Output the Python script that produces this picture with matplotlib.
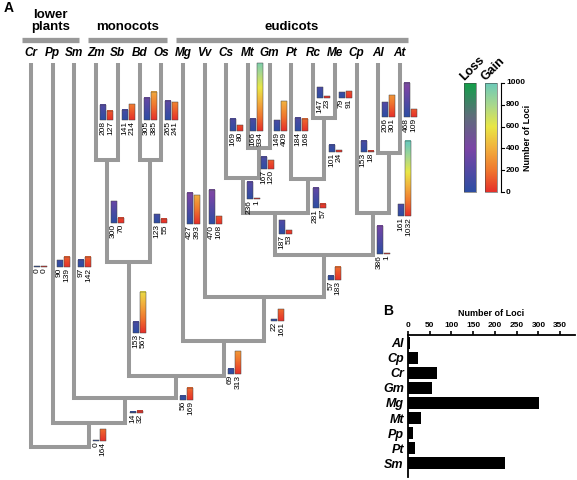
import numpy as np
import matplotlib
matplotlib.use("Agg")
import matplotlib.pyplot as plt
from matplotlib.colors import LinearSegmentedColormap
from matplotlib.patches import Rectangle

plt.rcParams['font.family'] = ['Liberation Sans', 'DejaVu Sans']

# ---- data ----
leaves = ['Cr', 'Pp', 'Sm', 'Zm', 'Sb', 'Bd', 'Os', 'Mg', 'Vv', 'Cs', 'Mt', 'Gm', 'Pt', 'Rc', 'Me', 'Cp', 'Al', 'At']

# internal nodes: name -> (child1, child2)
nodes = {
    'ZmSb': ('Zm', 'Sb'), 'BdOs': ('Bd', 'Os'), 'Mono': ('ZmSb', 'BdOs'),
    'MtGm': ('Mt', 'Gm'), 'CsMtGm': ('Cs', 'MtGm'), 'RcMe': ('Rc', 'Me'),
    'PtRcMe': ('Pt', 'RcMe'), 'Ros': ('CsMtGm', 'PtRcMe'), 'AlAt': ('Al', 'At'),
    'CpAlAt': ('Cp', 'AlAt'), 'Core': ('Ros', 'CpAlAt'), 'VvN': ('Vv', 'Core'),
    'MgN': ('Mg', 'VvN'), 'Angio': ('Mono', 'MgN'), 'SmN': ('Sm', 'Angio'),
    'PpN': ('Pp', 'SmN'), 'Root': ('Cr', 'PpN'),
}

branches = ['Cr', 'Pp', 'Sm', 'Zm', 'Sb', 'Bd', 'Os', 'Mg', 'Vv', 'Cs', 'Mt', 'Gm', 'Pt', 'Rc', 'Me', 'Cp', 'Al', 'At',
            'ZmSb', 'BdOs', 'Mono', 'MtGm', 'RcMe', 'AlAt', 'CsMtGm', 'PtRcMe', 'Ros', 'CpAlAt', 'Core', 'VvN',
            'MgN', 'Angio', 'SmN', 'PpN']
loss = [0, 90, 97, 208, 141, 305, 265, 427, 470, 169, 166, 149, 184, 147, 79, 153, 206, 468,
        300, 123, 153, 167, 101, 161, 236, 281, 187, 386, 57, 22, 69, 56, 14, 0]
gain = [0, 139, 142, 127, 214, 385, 241, 393, 108, 80, 934, 409, 168, 23, 91, 18, 301, 109,
        70, 55, 567, 120, 24, 1032, 1, 57, 53, 1, 183, 161, 313, 169, 32, 164]

b_species = ['Al', 'Cp', 'Cr', 'Gm', 'Mg', 'Mt', 'Pp', 'Pt', 'Sm']
b_loci = [4, 24, 66, 56, 302, 29, 12, 15, 223]

# ---- layout (pixels) ----
leaf_top = 63
leaf_x = {name: 31 + 21.7 * i for i, name in enumerate(leaves)}
node_y = {'ZmSb': 160, 'BdOs': 160, 'Mono': 262, 'MtGm': 148, 'CsMtGm': 178, 'RcMe': 118,
          'PtRcMe': 179, 'Ros': 213, 'AlAt': 153, 'CpAlAt': 213, 'Core': 255, 'VvN': 297,
          'MgN': 341, 'Angio': 376, 'SmN': 398, 'PpN': 423, 'Root': 447}
bar_base = {'Cr': 267, 'Pp': 267, 'Sm': 267, 'Zm': 120, 'Sb': 120, 'Bd': 120, 'Os': 120,
            'Mg': 224, 'Vv': 224, 'Cs': 131, 'Mt': 131, 'Gm': 131, 'Pt': 131, 'Rc': 98, 'Me': 98,
            'Cp': 152, 'Al': 117, 'At': 117, 'ZmSb': 223, 'BdOs': 223, 'Mono': 333, 'MtGm': 169,
            'RcMe': 152, 'AlAt': 216, 'CsMtGm': 199, 'PtRcMe': 208, 'Ros': 234, 'CpAlAt': 254,
            'Core': 280, 'VvN': 321, 'MgN': 374, 'Angio': 400, 'SmN': 413, 'PpN': 441}
bar_off = {'AlAt': 9, 'VvN': 7, 'Mt': 2, 'MtGm': 2, 'RcMe': 5, 'PtRcMe': 5, 'SmN': 5, 'Cr': 3}
px_per_locus = 0.0728
bw = 6

loss_cmap = LinearSegmentedColormap.from_list('loss', [(0, '#2d4ea3'), (0.4, '#7b45a6'), (0.7, '#5e6e7a'), (1, '#13a04a')])
gain_cmap = LinearSegmentedColormap.from_list('gain', [(0, '#e6302a'), (0.2, '#f0782f'), (0.4, '#f2b03e'),
                                                       (0.6, '#e9e746'), (0.8, '#a9d88e'), (1, '#6ccab9')])


def node_x(n):
    if n in leaf_x:
        return leaf_x[n]
    a, b = nodes[n]
    return (node_x(a) + node_x(b)) / 2


def node_top(n):
    return leaf_top if n in leaf_x else node_y[n]


def grad_bar(ax, x0, base, v, cmap):
    h = max(v * px_per_locus, 0.6)
    img = np.linspace(0, v, 64).reshape(-1, 1)
    ax.imshow(img, cmap=cmap, vmin=0, vmax=1000, origin='lower', aspect='auto',
              extent=[x0, x0 + bw, base, base - h], zorder=3, interpolation='bilinear')
    ax.add_patch(Rectangle((x0, base - h), bw, h, fill=False, ec='#444444', lw=0.35, zorder=4))


fig = plt.figure(figsize=(5.77, 4.8), dpi=100)
ax = fig.add_axes([0, 0, 1, 1])
ax.axis('off')

tree_col = '#999999'
# tree
for n, (a, b) in nodes.items():
    xa, xb = node_x(a), node_x(b)
    y = node_y[n]
    ax.plot([xa, xa, xb, xb], [node_top(a), y, y, node_top(b)], color=tree_col, lw=2.9,
            solid_joinstyle='miter', solid_capstyle='butt', zorder=1)

# leaf labels
for n in leaves:
    ax.text(leaf_x[n], 53, n, ha='center', va='center', fontsize=8.5, fontweight='bold', style='italic')

# group headers
for x0, x1, label, ty in [(22, 79, 'lower\nplants', 21), (88, 167, 'monocots', 27), (176, 408, 'eudicots', 27)]:
    ax.plot([x0, x1], [39.5, 39.5], color=tree_col, lw=3.8, solid_capstyle='butt')
    ax.text((x0 + x1) / 2, ty, label, ha='center', va='center', fontsize=9.5, fontweight='bold', linespacing=0.95)
ax.text(4, 8, 'A', fontsize=10, fontweight='bold', ha='left', va='center')

# loss / gain bars with rotated value labels
for n, lv, gv in zip(branches, loss, gain):
    x = node_x(n) + bar_off.get(n, 4)
    base = bar_base[n]
    grad_bar(ax, x, base, lv, loss_cmap)
    grad_bar(ax, x + bw + 1, base, gv, gain_cmap)
    ax.text(x + bw / 2 - 0.3, base + 1, str(lv), rotation=90, ha='center', va='top', fontsize=6)
    ax.text(x + 1.5 * bw + 1.3, base + 1, str(gv), rotation=90, ha='center', va='top', fontsize=6)

# legend colour bars
top, bot = 83, 192
grad = np.linspace(0, 1000, 256).reshape(-1, 1)
for x0, cmap in [(464, loss_cmap), (485, gain_cmap)]:
    ax.imshow(grad, cmap=cmap, vmin=0, vmax=1000, origin='lower', aspect='auto',
              extent=[x0, x0 + 12, bot, top], zorder=3)
    ax.add_patch(Rectangle((x0, top), 12, bot - top, fill=False, ec='#444444', lw=0.4, zorder=4))
ax.plot([501, 501], [top, bot], color='black', lw=0.8)
for v in range(0, 1001, 200):
    y = bot - (bot - top) * v / 1000
    ax.plot([501, 504], [y, y], color='black', lw=0.8)
    ax.text(506, y, str(v), ha='left', va='center', fontsize=6, fontweight='bold')
ax.text(528, 138, 'Number of Loci', rotation=90, ha='center', va='center', fontsize=6.5, fontweight='bold')
ax.text(464, 81, 'Loss', rotation=45, rotation_mode='anchor', ha='left', va='baseline', fontsize=9, fontweight='bold')
ax.text(486, 81, 'Gain', rotation=45, rotation_mode='anchor', ha='left', va='baseline', fontsize=9, fontweight='bold')

ax.text(383, 311, 'B', fontsize=10, fontweight='bold', ha='left', va='center')

ax.set_xlim(0, 577)
ax.set_ylim(480, 0)

# panel B
bx = fig.add_axes([408 / 577, 1 - 477 / 480, (575 - 408) / 577, (477 - 335) / 480])
ypos = np.arange(len(b_species))
bx.barh(ypos, b_loci, height=0.75, color='black')
bx.set_ylim(len(b_species) - 0.07, -0.53)
bx.set_xlim(0, 384)
bx.set_xticks(range(0, 351, 50))
bx.xaxis.tick_top()
bx.xaxis.set_label_position('top')
bx.set_xlabel('Number of Loci', fontsize=6.5, fontweight='bold', labelpad=5)
bx.set_yticks(ypos)
bx.set_yticklabels(b_species, fontsize=9, fontweight='bold', style='italic')
bx.tick_params(axis='x', labelsize=6, width=1.2, length=3, pad=1)
bx.tick_params(axis='y', length=0, pad=3)
for lab in bx.get_xticklabels():
    lab.set_fontweight('bold')
for s in ['right', 'bottom']:
    bx.spines[s].set_visible(False)
for s in ['left', 'top']:
    bx.spines[s].set_linewidth(1.3)
bx.patch.set_alpha(0)

fig.savefig('out.png', dpi=100)
